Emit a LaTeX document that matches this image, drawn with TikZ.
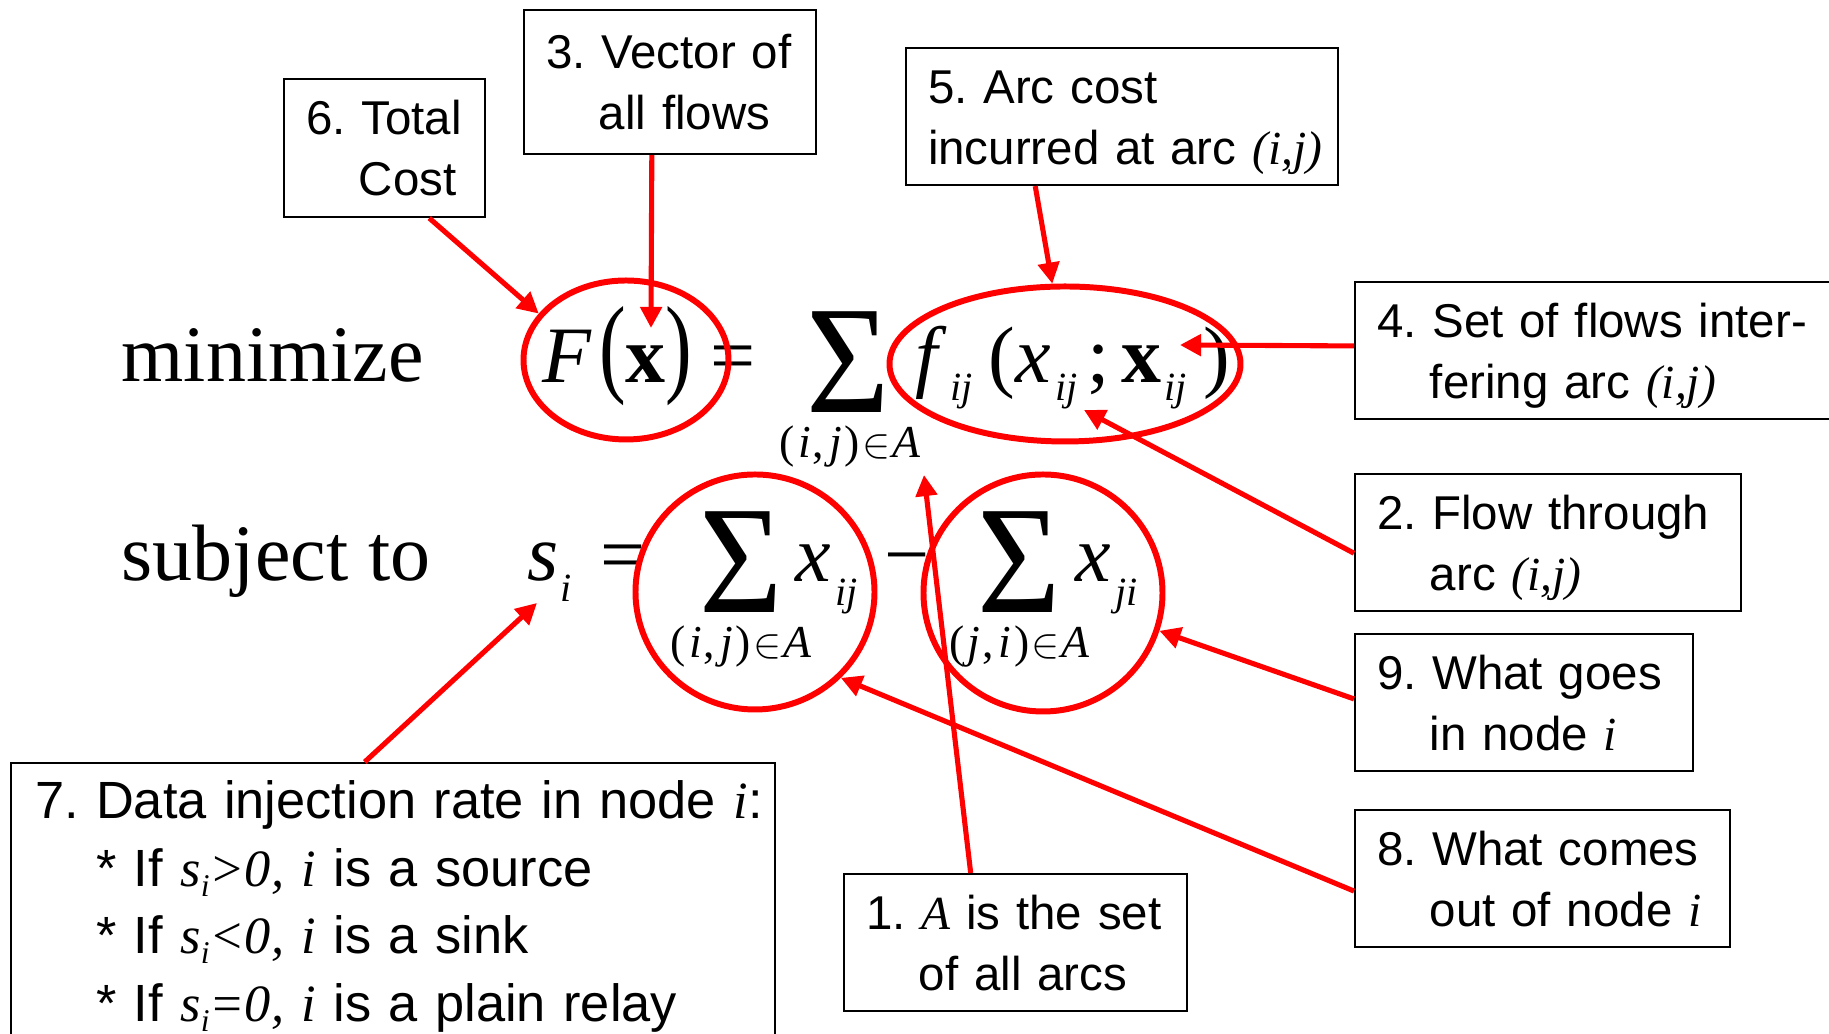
\documentclass[tikz,border=0pt]{standalone}
\usepackage{graphicx}
\usepackage{fontspec}
\setmainfont{Liberation Serif}
\newfontfamily\labelfont{Liberation Sans}
\usetikzlibrary{arrows.meta, calc, shapes.geometric}
\definecolor{ink}{HTML}{FF0000}
\frenchspacing

\newcommand{\eqsize}{\fontsize{22.76}{27}\selectfont}
\newcommand{\subsize}{\fontsize{11.4}{13}\selectfont}
\newcommand{\limsize}{\fontsize{13}{15}\selectfont}
\newcommand{\sigsize}{\fontsize{43.8}{44}\selectfont}
\newcommand{\notesize}{\labelfont\fontsize{13.5}{16.35}\selectfont}
\newcommand{\widesize}{\labelfont\fontsize{14.9}{18.2}\selectfont}
\newcommand{\sig}{\scalebox{0.93}[1]{Σ}}
\newcommand{\tallp}[1]{\scalebox{1}[1.37]{#1}}
\newcommand{\lowsub}[2]{\raisebox{-#1}{\subsize\itshape #2}}
\newcommand{\pairin}[2]{(\hspace{0.03cm}\textit{#1}\hspace{0.02cm},\hspace{0.05cm}\textit{#2}\hspace{0.03cm})\hspace{0.02cm}$\in$\hspace{0.02cm}\textit{A}}
\newcommand{\tm}[1]{{\rmfamily\itshape #1}}
\newcommand{\noteline}[1]{\mbox{\rule[-0.115cm]{0pt}{0.575cm}#1}}
\newcommand{\notehang}[1]{\mbox{\rule[-0.115cm]{0pt}{0.575cm}\hspace*{0.528cm}#1}}
\newcommand{\wideline}[1]{\mbox{\rule[-0.14cm]{0pt}{0.64cm}#1}}

\begin{document}
\begin{tikzpicture}[
    every node/.style={inner sep=0pt},
    eq/.style={font=\eqsize, anchor=base west},
    lim/.style={font=\limsize, anchor=base},
    big/.style={font=\sigsize, anchor=base},
    ring/.style={ellipse, draw=ink, line width=1.7pt},
    note/.style={draw, line width=0.6pt, anchor=north west, inner xsep=0.22cm,
        align=left, font=\notesize},
    callout/.style={ink, line width=1.45pt, -{Triangle[length=6pt, width=6pt]}},
]

\useasboundingbox (0,0) rectangle (18.29,10.34);
\clip (0,0) rectangle (18.29,10.34);

% the objective
\node[eq] (objword) at (1.21, 6.52) {minimize};
\node[eq] (Fx) at (5.42, 6.51) {\textit{F}\hspace{0.07cm}\tallp{(}\textbf{x}\tallp{)}};
\node[eq] (eqA) at (7.10, 6.51) {=};
\node[big] (sumA) at (8.485, 6.21) {\sig};
\node[lim] (limA) at (8.50, 5.76) {\pairin{i}{j}};
\node[eq] (fterm) at (9.15, 6.51)
    {\textit{f}\hspace{0.03cm}\lowsub{0.18cm}{ij}\hspace{0.16cm}(\textit{x}\hspace{0.05cm}\lowsub{0.18cm}{ij}\hspace{0.10cm};\hspace{0.11cm}\textbf{x}\hspace{0.03cm}\lowsub{0.18cm}{ij}\hspace{0.17cm})};

% the constraint
\node[eq] (conword) at (1.21, 4.53) {subject to};
\node[eq] (si) at (5.27, 4.53) {\textit{s}\hspace{0.02cm}\lowsub{0.21cm}{i}};
\node[eq] (eqB) at (6.00, 4.52) {=};
\node[big] (sumB) at (7.415, 4.21) {\sig};
\node[eq] (xin) at (7.95, 4.52) {\textit{x}\hspace{0.04cm}\lowsub{0.24cm}{ij}};
\node[lim] (limB) at (7.41, 3.76) {\pairin{i}{j}};
\node[eq] (minus) at (8.84, 4.52) {−};
\node[big] (sumC) at (10.195, 4.21) {\sig};
\node[eq] (xout) at (10.75, 4.52) {\textit{x}\hspace{0.04cm}\lowsub{0.24cm}{ji}};
\node[lim] (limC) at (10.195, 3.76) {\pairin{j}{i}};

% red rings
\node[ring, minimum width=2.05cm, minimum height=1.59cm] (cF) at (6.26, 6.74) {};
\node[ring, minimum width=3.51cm, minimum height=1.55cm] (cf) at (10.65, 6.70) {};
\node[ring, minimum width=2.39cm, minimum height=2.35cm] (c1) at (7.55, 4.42) {};
\node[ring, minimum width=2.39cm, minimum height=2.37cm] (c2) at (10.43, 4.41) {};

% tips that land inside the formula
\coordinate (t3) at (6.51, 7.06);
\coordinate (t4) at (11.80, 6.89);
\coordinate (t2) at (10.84, 6.24);
\coordinate (t1) at (9.24, 5.59);
\coordinate (t7) at (5.37, 4.31);

% the numbered notes
\node[note, text width=1.57cm, minimum width=2.01cm, minimum height=1.38cm] (b6) at (2.83, 9.56)
    {\noteline{6. Total}\\\notehang{Cost}};
\node[note, text width=2.48cm, minimum width=2.92cm, minimum height=1.44cm] (b3) at (5.23, 10.25)
    {\noteline{3. Vector of}\\\notehang{all flows}};
\node[note, text width=3.88cm, minimum width=4.32cm, minimum height=1.37cm] (b5) at (9.05, 9.87)
    {\noteline{5. Arc cost}\\\noteline{incurred at arc \tm{(i,j)}}};
\node[note, text width=4.82cm, minimum width=5.26cm, minimum height=1.37cm] (b4) at (13.54, 7.53)
    {\noteline{4. Set of flows inter-}\\\notehang{fering arc \tm{(i,j)}}};
\node[note, text width=3.42cm, minimum width=3.86cm, minimum height=1.37cm] (b2) at (13.54, 5.61)
    {\noteline{2. Flow through}\\\notehang{arc \tm{(i,j)}}};
\node[note, text width=2.94cm, minimum width=3.38cm, minimum height=1.37cm] (b9) at (13.54, 4.01)
    {\noteline{9. What goes}\\\notehang{in node \tm{i}}};
\node[note, text width=3.31cm, minimum width=3.75cm, minimum height=1.37cm] (b8) at (13.54, 2.25)
    {\noteline{8. What comes}\\\notehang{out of node \tm{i}}};
\node[note, text width=2.99cm, minimum width=3.43cm, minimum height=1.37cm] (b1) at (8.43, 1.61)
    {\noteline{1. \tm{A} is the set}\\\notehang{of all arcs}};
\node[note, font=\widesize, inner xsep=0.24cm, text width=7.16cm, minimum width=7.64cm,
      minimum height=2.78cm] (b7) at (0.10, 2.72)
    {\wideline{7. Data injection rate in node \tm{i}:}\\
     \wideline{\hspace*{0.61cm}* If \tm{s\raisebox{-0.1cm}{\fontsize{9}{9}\selectfont i}>0,} \tm{i} is a source}\\
     \wideline{\hspace*{0.61cm}* If \tm{s\raisebox{-0.1cm}{\fontsize{9}{9}\selectfont i}<0,} \tm{i} is a sink}\\
     \wideline{\hspace*{0.61cm}* If \tm{s\raisebox{-0.1cm}{\fontsize{9}{9}\selectfont i}=0,} \tm{i} is a plain relay}};

% callout arrows
\draw[callout] ($(b6.south west)!0.72!(b6.south east)$) -- (cF.152);
\draw[callout] ($(b3.south west)!0.438!(b3.south east)$) -- (t3);
\draw[callout] ($(b5.south west)!0.30!(b5.south east)$) -- (cf.99);
\draw[callout] ($(b4.north west)!0.467!(b4.south west)$) -- (t4);
\draw[callout] ($(b2.north west)!0.577!(b2.south west)$) -- (t2);
\draw[callout] ($(b9.north west)!0.474!(b9.south west)$) -- (c2.-18);
\draw[callout] ($(b8.north west)!0.59!(b8.south west)$) -- (c1.-45);
\draw[callout] ($(b1.north west)!0.37!(b1.north east)$) -- (t1);
\draw[callout] ($(b7.north west)!0.463!(b7.north east)$) -- (t7);

\end{tikzpicture}
\end{document}
